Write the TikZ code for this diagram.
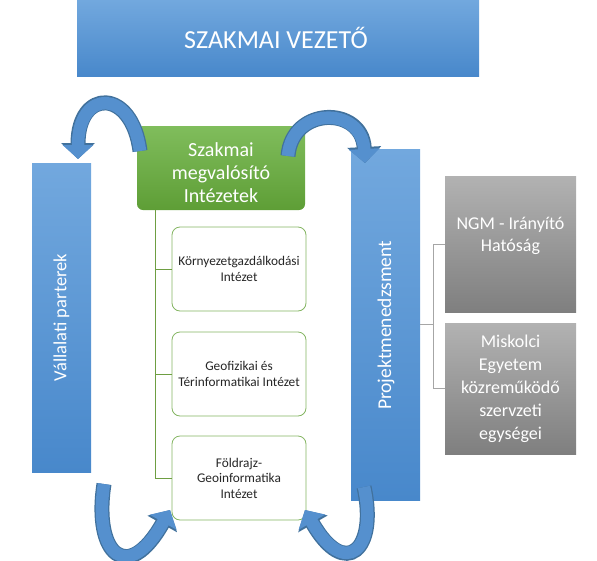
\documentclass[tikz,border=0pt]{standalone}
\usepackage{fontspec}
\setmainfont{Carlito}
\usetikzlibrary{arrows.meta}
\definecolor{bluetop}{HTML}{72A8DE}
\definecolor{bluebot}{HTML}{4888CB}
\definecolor{greentop}{HTML}{80BD5C}
\definecolor{greenbot}{HTML}{5E9E36}
\definecolor{graytop}{HTML}{B2B2B2}
\definecolor{graybot}{HTML}{7F7F7F}
\definecolor{greenline}{HTML}{6E9E42}
\definecolor{greenborder}{HTML}{84B562}
\definecolor{grayline}{HTML}{A6A6A6}
\definecolor{arrowfill}{HTML}{5590CE}
\definecolor{arrowedge}{HTML}{41719C}
\begin{document}
\begin{tikzpicture}[x=1pt,y=-1pt,
  plain/.style={inner sep=0pt, outer sep=0pt, anchor=north west},
  bluebox/.style={plain, top color=bluetop, bottom color=bluebot},
  greenbox/.style={plain, top color=greentop, bottom color=greenbot, rounded corners=6pt},
  graybox/.style={plain, top color=graytop, bottom color=graybot},
  instbox/.style={plain, draw=greenborder, line width=0.8pt, fill=white, rounded corners=8pt,
    minimum width=134pt, minimum height=84pt},
  instlabel/.style={align=center, font=\fontsize{13.3}{15.5}\selectfont, text=black!85},
  whitelabel/.style={align=center, text=white},
  tree/.style={draw=greenline, line width=0.8pt},
  gtree/.style={draw=grayline, line width=0.8pt},
  curvedarrowedge/.style={draw=arrowedge, line width=15pt, -{Triangle[width=33pt,length=16pt]}},
  curvedarrow/.style={draw=arrowfill, line width=12.5pt, -{Triangle[width=30pt,length=14pt]}}
]
\useasboundingbox (0,0) rectangle (597,560);

% top box
\node[bluebox, minimum width=402pt, minimum height=76pt] (sv) at (77,0) {};
\node[whitelabel, font=\fontsize{26}{30}\selectfont] (svt) at ([xshift=-2pt]sv.center) {SZAKMAI VEZETŐ};

% side bars
\node[bluebox, minimum width=59pt, minimum height=309pt] (vp) at (32,163) {};
\node[whitelabel, rotate=90, font=\fontsize{18.5}{22}\selectfont] (vpt) at (vp.center) {Vállalati parterek};
\node[bluebox, minimum width=69pt, minimum height=351pt] (pm) at (351,149) {};
\node[whitelabel, rotate=90, font=\fontsize{19.5}{23}\selectfont] (pmt) at ([xshift=0.5pt,yshift=-1pt]pm.center) {Projektmenedzsment};

% green box
\node[greenbox, minimum width=168pt, minimum height=84pt] (gb) at (137,126) {};
\node[whitelabel, font=\fontsize{20}{23}\selectfont] (gbt) at ([yshift=-5pt]gb.center) {Szakmai\\megvalósító\\Intézetek};

% institute boxes
\node[instbox] (ib1) at (172,227) {};
\node[instlabel] (ib1t) at (ib1.center) {Környezetgazdálkodási\\Intézet};
\node[instbox] (ib2) at (172,332) {};
\node[instlabel] (ib2t) at (ib2.center) {Geofizikai és\\Térinformatikai Intézet};
\node[instbox] (ib3) at (172,436) {};
\node[instlabel] (ib3t) at (ib3.center) {Földrajz-\\Geoinformatika\\Intézet};

% green tree
\coordinate (trunk) at (155,210);
\draw[tree] (trunk) |- (ib3.west);
\draw[tree] (trunk |- ib1.west) -- (ib1.west);
\draw[tree] (trunk |- ib2.west) -- (ib2.west);

% gray boxes
\node[graybox, minimum width=131pt, minimum height=136pt] (g1) at (445,176) {};
\node[whitelabel, font=\fontsize{18}{22}\selectfont] (g1t) at (510.5,236) {NGM - Irányító\\Hatóság};
\node[graybox, minimum width=131pt, minimum height=131pt] (g2) at (445,323) {};
\node[whitelabel, font=\fontsize{18}{23}\selectfont] (g2t) at (g2.center) {Miskolci\\Egyetem\\közreműködő\\szervzeti\\egységei};

% gray connectors
\coordinate (jn) at (433,0 |- pm.east);
\draw[gtree] (pm.east) -- (jn);
\draw[gtree] (jn |- g1.west) -- (jn |- g2.west);
\draw[gtree] (jn |- g1.west) -- (g1.west);
\draw[gtree] (jn |- g2.west) -- (g2.west);

% curved arrows
\coordinate (a1s) at (140,151);
\coordinate (a1e) at (78,159);
\coordinate (a2s) at (288,156);
\coordinate (a2e) at (365,163);
\coordinate (a3s) at (104,484);
\coordinate (a3e) at (170,510);
\coordinate (a4s) at (364,487);
\coordinate (a4e) at (305,510);
\foreach \st in {curvedarrowedge,curvedarrow}{
  \draw[\st] (a1s) .. controls (132,88) and (78,88) .. (a1e);
  \draw[\st] (a2s) .. controls (292,106) and (362,106) .. (a2e);
  \draw[\st] (a3s) .. controls (93,555) and (128,585) .. (a3e);
  \draw[\st] (a4s) .. controls (378,550) and (345,580) .. (a4e);
}
\end{tikzpicture}
\end{document}
